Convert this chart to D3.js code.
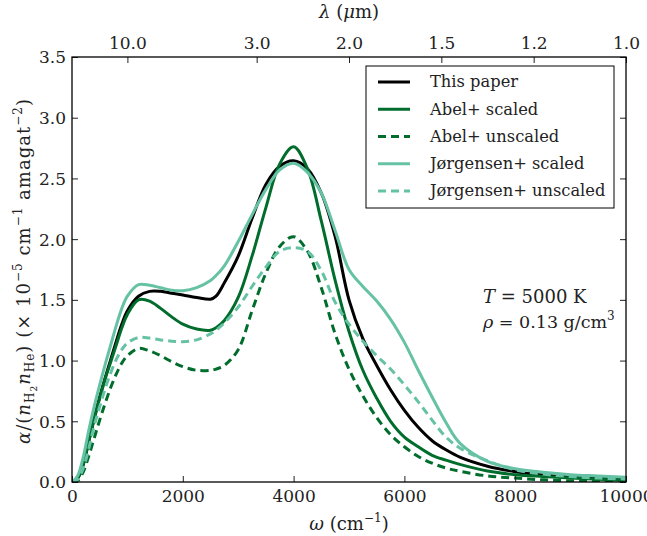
<!DOCTYPE html>
<html>
<head>
<meta charset="utf-8">
<script src="https://cdn.jsdelivr.net/npm/d3@7"></script>
<style>
  body { margin: 0; background: #fff; }
  svg text { font-family: "DejaVu Serif", serif; fill: #222; }
</style>
</head>
<body>
<svg id="chart" width="647" height="536"></svg>
<script>
// wavenumber grid (cm^-1)
const omega = [0, 100, 200, 300, 400, 500, 600, 700, 800, 900, 1000, 1200, 1400, 1600, 1800, 2000,
  2250, 2500, 2600, 2750, 3000, 3250, 3500, 3750, 4000, 4250, 4500, 4750, 5000, 5250, 5500, 5750,
  6000, 6250, 6500, 6750, 7000, 7500, 8000, 8500, 9000, 9500, 10000];

const thisPaper = [0, 0.03, 0.14, 0.33, 0.52, 0.70, 0.86, 1.01, 1.16, 1.30, 1.41, 1.53, 1.57, 1.57, 1.555, 1.54,
  1.52, 1.505, 1.53, 1.64, 1.86, 2.17, 2.45, 2.60, 2.645, 2.58, 2.38, 2.02, 1.50, 1.18, 0.96, 0.76,
  0.59, 0.45, 0.34, 0.265, 0.205, 0.13, 0.085, 0.058, 0.042, 0.032, 0.025];

const abelScaled = [0, 0.03, 0.14, 0.33, 0.52, 0.69, 0.85, 0.99, 1.13, 1.27, 1.38, 1.50, 1.49, 1.43, 1.36, 1.30,
  1.26, 1.25, 1.27, 1.33, 1.52, 1.86, 2.26, 2.62, 2.76, 2.58, 2.15, 1.66, 1.24, 0.92, 0.69, 0.50,
  0.37, 0.29, 0.22, 0.18, 0.145, 0.09, 0.06, 0.045, 0.032, 0.022, 0.015];

const abelUnscaled = [0, 0.01, 0.08, 0.21, 0.36, 0.51, 0.65, 0.78, 0.89, 0.98, 1.04, 1.10, 1.08, 1.04, 0.99, 0.95,
  0.92, 0.92, 0.93, 0.96, 1.09, 1.41, 1.72, 1.94, 2.02, 1.90, 1.60, 1.22, 0.93, 0.71, 0.53, 0.39,
  0.29, 0.21, 0.155, 0.115, 0.088, 0.05, 0.032, 0.018, 0.01, 0.006, 0.004];

const jorgScaled = [0, 0.05, 0.20, 0.42, 0.62, 0.80, 0.97, 1.13, 1.29, 1.43, 1.53, 1.625, 1.62, 1.60, 1.58, 1.575,
  1.60, 1.66, 1.70, 1.78, 1.98, 2.20, 2.41, 2.57, 2.625, 2.55, 2.38, 2.07, 1.75, 1.61, 1.49, 1.34,
  1.15, 0.92, 0.70, 0.49, 0.32, 0.17, 0.11, 0.08, 0.06, 0.05, 0.04];

const jorgUnscaled = [0, 0.02, 0.11, 0.27, 0.46, 0.62, 0.77, 0.90, 1.01, 1.09, 1.145, 1.19, 1.185, 1.17, 1.16, 1.155,
  1.17, 1.22, 1.25, 1.31, 1.44, 1.61, 1.77, 1.90, 1.93, 1.90, 1.74, 1.48, 1.30, 1.16, 1.04, 0.93,
  0.80, 0.66, 0.51, 0.37, 0.28, 0.175, 0.10, 0.065, 0.045, 0.032, 0.025];

const seriesNames = ['This paper', 'Abel+ scaled', 'Abel+ unscaled', 'J\u00f8rgensen+ scaled', 'J\u00f8rgensen+ unscaled'];
const seriesValues = [thisPaper, abelScaled, abelUnscaled, jorgScaled, jorgUnscaled];
const seriesColors = ['#000000', '#006d2c', '#006d2c', '#66c2a4', '#66c2a4'];
const seriesDashed = [false, false, true, false, true];

const yTicks = [0, 0.5, 1.0, 1.5, 2.0, 2.5, 3.0, 3.5];
const xTicks = [0, 2000, 4000, 6000, 8000, 10000];
const lambdaTicks = [10.0, 3.0, 2.0, 1.5, 1.2, 1.0];

const margin = {top: 57, right: 21, bottom: 54, left: 72};
const width = 647 - margin.left - margin.right;
const height = 536 - margin.top - margin.bottom;

const svg = d3.select('#chart');
const g = svg.append('g')
  .attr('transform', 'translate(' + margin.left + ',' + margin.top + ')');

const x = d3.scaleLinear().domain([0, 10000]).range([0, width]);
const y = d3.scaleLinear().domain([0, 3.5]).range([height, 0]);

// clip the curves to the plot box
g.append('clipPath').attr('id', 'plotclip')
  .append('rect').attr('width', width).attr('height', height);

const line = d3.line()
  .x((d, i) => x(omega[i]))
  .y(d => y(d))
  .curve(d3.curveCatmullRom.alpha(0.5));

g.append('g').attr('clip-path', 'url(#plotclip)')
  .selectAll('path')
  .data(seriesValues)
  .join('path')
  .attr('d', line)
  .attr('fill', 'none')
  .attr('stroke', (d, i) => seriesColors[i])
  .attr('stroke-width', 3)
  .attr('stroke-dasharray', (d, i) => seriesDashed[i] ? '8,5' : null);

// axes, ticks pointing inward
const fmt1 = d3.format('.1f');
const axisFont = 17;

const xAxis = g.append('g')
  .attr('transform', 'translate(0,' + height + ')')
  .call(d3.axisBottom(x).tickValues(xTicks).tickSize(-6).tickPadding(8).tickFormat(d3.format('d')));

const yAxis = g.append('g')
  .call(d3.axisLeft(y).tickValues(yTicks).tickSize(-6).tickPadding(6).tickFormat(fmt1));

const yAxisR = g.append('g')
  .attr('transform', 'translate(' + width + ',0)')
  .call(d3.axisRight(y).tickValues(yTicks).tickSize(-6).tickFormat(''));

const topAxis = g.append('g')
  .call(d3.axisTop(x).tickValues(lambdaTicks.map(l => 10000 / l)).tickSize(-6).tickPadding(8)
    .tickFormat((d, i) => fmt1(lambdaTicks[i])));

[xAxis, yAxis, yAxisR, topAxis].forEach(a => {
  a.attr('font-family', null);
  a.select('.domain').remove();
  a.selectAll('.tick line').attr('stroke', '#222').attr('stroke-width', 1);
  a.selectAll('text').attr('font-size', axisFont).attr('fill', '#222');
});
yAxis.selectAll('.tick text').attr('dy', '0.35em');

// frame
g.append('rect')
  .attr('width', width).attr('height', height)
  .attr('fill', 'none').attr('stroke', '#000').attr('stroke-width', 1.3);

// axis labels
const xl = g.append('text')
  .attr('x', width / 2).attr('y', height + 48)
  .attr('text-anchor', 'middle').attr('font-size', 18);
xl.append('tspan').attr('font-style', 'italic').text('\u03c9');
xl.append('tspan').text(' (cm');
xl.append('tspan').attr('font-size', 12).attr('dy', -8).text('\u22121');
xl.append('tspan').attr('dy', 8).text(')');

const tl = g.append('text')
  .attr('x', width / 2).attr('y', -39)
  .attr('text-anchor', 'middle').attr('font-size', 18);
tl.append('tspan').attr('font-style', 'italic').text('\u03bb');
tl.append('tspan').text(' (');
tl.append('tspan').attr('font-style', 'italic').text('\u03bc');
tl.append('tspan').text('m)');

const yl = svg.append('text')
  .attr('transform', 'translate(30,' + (margin.top + height / 2 + 2) + ') rotate(-90)')
  .attr('text-anchor', 'middle').attr('font-size', 18)
  .attr('textLength', 345).attr('lengthAdjust', 'spacing');
yl.append('tspan').attr('font-style', 'italic').text('\u03b1');
yl.append('tspan').text('/(');
yl.append('tspan').attr('font-style', 'italic').text('n');
yl.append('tspan').attr('font-size', 12).attr('dy', 4).text('H');
yl.append('tspan').attr('font-size', 9).attr('dy', 3).text('2');
yl.append('tspan').attr('font-style', 'italic').attr('dy', -7).text('n');
yl.append('tspan').attr('font-size', 12).attr('dy', 4).text('He');
yl.append('tspan').attr('dy', -4).text(') (\u00d7 10');
yl.append('tspan').attr('font-size', 12).attr('dy', -8).text('\u22125');
yl.append('tspan').attr('dy', 8).text(' cm');
yl.append('tspan').attr('font-size', 12).attr('dy', -8).text('\u22121');
yl.append('tspan').attr('dy', 8).text(' amagat');
yl.append('tspan').attr('font-size', 12).attr('dy', -8).text('\u22122');
yl.append('tspan').attr('dy', 8).text(')');

// legend
const legend = g.append('g').attr('transform', 'translate(' + (366 - margin.left) + ',' + (66 - margin.top) + ')');
legend.append('rect')
  .attr('width', 248).attr('height', 142)
  .attr('fill', '#fff').attr('stroke', '#000').attr('stroke-width', 1);
const rowY = d3.scaleLinear().domain([0, 4]).range([16, 125]);
const item = legend.selectAll('g.item')
  .data(seriesNames)
  .join('g').attr('class', 'item')
  .attr('transform', (d, i) => 'translate(0,' + rowY(i) + ')');
item.append('line')
  .attr('x1', 12).attr('x2', 44)
  .attr('stroke', (d, i) => seriesColors[i])
  .attr('stroke-width', 3)
  .attr('stroke-dasharray', (d, i) => seriesDashed[i] ? '8,5' : null);
item.append('text')
  .attr('x', 64).attr('dy', '0.33em')
  .attr('font-size', 16.3)
  .text(d => d);

// annotation
const ann = g.append('text').attr('x', 483 - margin.left).attr('y', 303 - margin.top)
  .attr('font-size', 18);
ann.append('tspan').attr('font-style', 'italic').text('T');
ann.append('tspan').text(' = 5000 K');
const ann2 = g.append('text').attr('x', 483 - margin.left).attr('y', 328 - margin.top)
  .attr('font-size', 17.5);
ann2.append('tspan').attr('font-style', 'italic').text('\u03c1');
ann2.append('tspan').text(' = 0.13 g/cm');
ann2.append('tspan').attr('font-size', 12).attr('dy', -8).text('3');
</script>
</body>
</html>
